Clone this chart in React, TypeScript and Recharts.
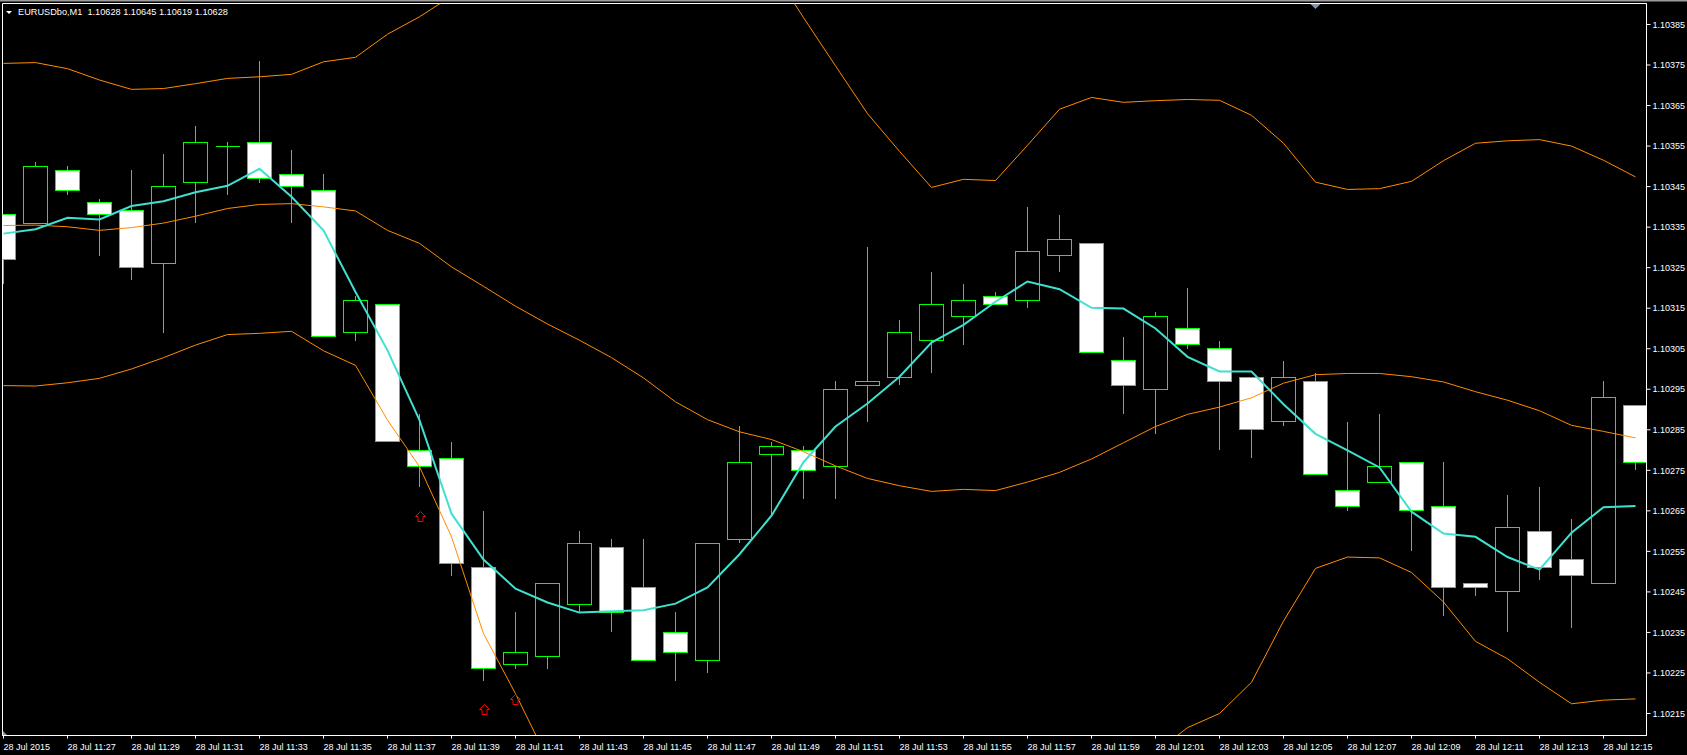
import React from 'react';
import { ComposedChart, Bar, Line, Scatter, XAxis, YAxis, ReferenceArea } from 'recharts';

// EURUSDbo M1, 28 Jul 2015 11:25 .. 12:16 (one entry per bar)
const opens = [
  1.10338, 1.10336, 1.10349, 1.10341, 1.10339, 1.10326, 1.10346, 1.10355, 1.10356, 1.10348,
  1.10344, 1.10309, 1.10316, 1.10280, 1.10278, 1.10251, 1.10227, 1.10229, 1.10242, 1.10256,
  1.10246, 1.10235, 1.10228, 1.10258, 1.10279, 1.10280, 1.10276, 1.10296, 1.10298, 1.10307,
  1.10313, 1.10318, 1.10317, 1.10328, 1.10331, 1.10302, 1.10295, 1.10310, 1.10305, 1.10298,
  1.10287, 1.10297, 1.10270, 1.10272, 1.10277, 1.10266, 1.10247, 1.10245, 1.10260, 1.10253,
  1.10247, 1.10291,
];
const highs = [
  1.10338, 1.10351, 1.10350, 1.10342, 1.10349, 1.10353, 1.10360, 1.10356, 1.10376, 1.10354,
  1.10348, 1.10318, 1.10316, 1.10289, 1.10282, 1.10265, 1.10240, 1.10247, 1.10260, 1.10258,
  1.10258, 1.10240, 1.10257, 1.10286, 1.10282, 1.10281, 1.10297, 1.10330, 1.10312, 1.10324,
  1.10321, 1.10319, 1.10340, 1.10338, 1.10331, 1.10308, 1.10314, 1.10320, 1.10307, 1.10298,
  1.10302, 1.10299, 1.10287, 1.10289, 1.10277, 1.10277, 1.10247, 1.10269, 1.10271, 1.10263,
  1.10297, 1.10291,
];
const lows = [
  1.10321, 1.10336, 1.10343, 1.10328, 1.10322, 1.10309, 1.10336, 1.10343, 1.10346, 1.10336,
  1.10308, 1.10307, 1.10282, 1.10271, 1.10249, 1.10223, 1.10226, 1.10226, 1.10240, 1.10235,
  1.10228, 1.10223, 1.10225, 1.10257, 1.10264, 1.10268, 1.10268, 1.10287, 1.10296, 1.10299,
  1.10306, 1.10316, 1.10315, 1.10324, 1.10304, 1.10289, 1.10284, 1.10305, 1.10280, 1.10278,
  1.10286, 1.10274, 1.10265, 1.10272, 1.10255, 1.10239, 1.10244, 1.10235, 1.10248, 1.10236,
  1.10247, 1.10275,
];
const closes = [
  1.10327, 1.10350, 1.10344, 1.10338, 1.10325, 1.10345, 1.10356, 1.10355, 1.10347, 1.10345,
  1.10308, 1.10317, 1.10282, 1.10276, 1.10252, 1.10226, 1.10230, 1.10247, 1.10257, 1.10240,
  1.10228, 1.10230, 1.10257, 1.10277, 1.10281, 1.10275, 1.10295, 1.10297, 1.10309, 1.10316,
  1.10317, 1.10316, 1.10329, 1.10332, 1.10304, 1.10296, 1.10313, 1.10306, 1.10297, 1.10285,
  1.10298, 1.10274, 1.10266, 1.10276, 1.10265, 1.10246, 1.10246, 1.10261, 1.10251, 1.10249,
  1.10293, 1.10277,
];

// moving average (turquoise)
const ma = [
  1.103334, 1.103345, 1.103373, 1.103369, 1.103402, 1.103414, 1.103436, 1.103452, 1.103494, 1.103425,
  1.103342, 1.103190, 1.103046, 1.102874, 1.102643, 1.102530, 1.102458, 1.102424, 1.102399, 1.102402,
  1.102405, 1.102421, 1.102461, 1.102543, 1.102638, 1.102770, 1.102858, 1.102915, 1.102981, 1.103065,
  1.103109, 1.103166, 1.103216, 1.103197, 1.103151, 1.103149, 1.103100, 1.103030, 1.102994, 1.102994,
  1.102913, 1.102840, 1.102799, 1.102757, 1.102648, 1.102594, 1.102586, 1.102536, 1.102505, 1.102596,
  1.102659, 1.102662,
];

// bollinger bands (orange), parts run off the visible price range
const upper = [
  1.103754, 1.103756, 1.103741, 1.103713, 1.103690, 1.103692, 1.103704, 1.103717, 1.103721, 1.103727,
  1.103758, 1.103769, 1.103826, 1.103869, 1.103920, 1.104061, 1.104111, 1.104184, 1.104190, 1.104180,
  1.104160, 1.104130, 1.104100, 1.104050, 1.103990, 1.103867, 1.103748, 1.103630, 1.103537, 1.103448,
  1.103468, 1.103465, 1.103552, 1.103641, 1.103670, 1.103658, 1.103662, 1.103665, 1.103663, 1.103626,
  1.103557, 1.103461, 1.103443, 1.103445, 1.103463, 1.103514, 1.103557, 1.103563, 1.103566, 1.103550,
  1.103515, 1.103474,
];
const mid = [
  1.103354, 1.103355, 1.103351, 1.103342, 1.103349, 1.103360, 1.103377, 1.103396, 1.103406, 1.103408,
  1.103400, 1.103390, 1.103342, 1.103310, 1.103252, 1.103204, 1.103155, 1.103111, 1.103071, 1.103028,
  1.102978, 1.102919, 1.102875, 1.102845, 1.102826, 1.102796, 1.102761, 1.102730, 1.102712, 1.102698,
  1.102703, 1.102700, 1.102721, 1.102745, 1.102778, 1.102818, 1.102858, 1.102888, 1.102906, 1.102929,
  1.102965, 1.102986, 1.102989, 1.102989, 1.102981, 1.102968, 1.102944, 1.102923, 1.102897, 1.102861,
  1.102846, 1.102830,
];
const lower = [
  1.102959, 1.102958, 1.102966, 1.102977, 1.103000, 1.103028, 1.103059, 1.103085, 1.103088, 1.103093,
  1.103045, 1.103009, 1.102874, 1.102759, 1.102586, 1.102347, 1.102199, 1.102038, 1.101952, 1.101876,
  1.101796, 1.101708, 1.101650, 1.101640, 1.101662, 1.101725, 1.101774, 1.101830, 1.101887, 1.101948,
  1.101938, 1.101935, 1.101890, 1.101849, 1.101886, 1.101978, 1.102054, 1.102115, 1.102150, 1.102227,
  1.102378, 1.102508, 1.102536, 1.102534, 1.102498, 1.102425, 1.102328, 1.102285, 1.102227, 1.102174,
  1.102183, 1.102186,
];

// signal arrows under bars
const arrowIdx = [13, 15, 16];
const arrowPrice = [1.102638, 1.102162, 1.102187];

const tickIdx = [0, 2, 4, 6, 8, 10, 12, 14, 16, 18, 20, 22, 24, 26, 28, 30, 32, 34, 36, 38, 40, 42, 44, 46, 48, 50];
const tickLabels = [
  '28 Jul 2015', '28 Jul 11:27', '28 Jul 11:29', '28 Jul 11:31', '28 Jul 11:33', '28 Jul 11:35',
  '28 Jul 11:37', '28 Jul 11:39', '28 Jul 11:41', '28 Jul 11:43', '28 Jul 11:45', '28 Jul 11:47',
  '28 Jul 11:49', '28 Jul 11:51', '28 Jul 11:53', '28 Jul 11:55', '28 Jul 11:57', '28 Jul 11:59',
  '28 Jul 12:01', '28 Jul 12:03', '28 Jul 12:05', '28 Jul 12:07', '28 Jul 12:09', '28 Jul 12:11',
  '28 Jul 12:13', '28 Jul 12:15',
];
const priceTicks = [
  1.10215, 1.10225, 1.10235, 1.10245, 1.10255, 1.10265, 1.10275, 1.10285, 1.10295,
  1.10305, 1.10315, 1.10325, 1.10335, 1.10345, 1.10355, 1.10365, 1.10375, 1.10385,
];

const data = opens.map((o, i) => ({
  i,
  open: o,
  high: highs[i],
  low: lows[i],
  close: closes[i],
  ma: ma[i],
  upper: upper[i],
  mid: mid[i],
  lower: lower[i],
}));
const arrowData = arrowIdx.map((i, k) => ({ i, price: arrowPrice[k] }));

const X_DOMAIN = [-0.03125, 51.34375];
const Y_DOMAIN = [1.10209571, 1.10390181];

const GREEN = '#00ff00';
const ORANGE = '#ff8c00';
const CYAN = '#40e0d0';
const RED = '#ff0000';
const FONT = '"Liberation Sans", Arial, sans-serif';

const Candle = (props: any) => {
  const { x, y, width, height, payload } = props;
  if (x == null || y == null || !payload) return null;
  const { open, close, high, low } = payload;
  const yHigh = Math.min(y, y + height);
  const yLow = Math.max(y, y + height);
  const k = high > low ? (yLow - yHigh) / (high - low) : 0;
  const py = (v: number) => yHigh + (high - v) * k;
  const cx = x + width / 2;
  const top = py(Math.max(open, close));
  const bot = py(Math.min(open, close));
  return (
    <g shapeRendering="crispEdges">
      <line x1={cx} x2={cx} y1={yHigh} y2={yLow} stroke={GREEN} />
      {open === close ? (
        <line x1={x} x2={x + width} y1={top} y2={top} stroke={GREEN} />
      ) : (
        <rect x={x} y={top} width={width} height={bot - top} fill={close < open ? '#fff' : '#000'} stroke={GREEN} />
      )}
    </g>
  );
};

const UpArrow = (props: any) => {
  const { cx, cy } = props;
  if (cx == null || cy == null) return null;
  const x = Math.round(cx) + 0.5;
  const t = Math.round(cy) - 5 + 0.5;
  const d = `M${x} ${t} L${x + 5} ${t + 5} L${x + 2.5} ${t + 5} L${x + 2.5} ${t + 10} L${x - 2.5} ${t + 10} L${x - 2.5} ${t + 5} L${x - 5} ${t + 5} Z`;
  return <path d={d} fill="none" stroke={RED} />;
};

const TimeTick = (props: any) => {
  const { x, y, payload } = props;
  return (
    <text x={x} y={y} dy={11} fill="#fff" fontSize={9} fontFamily={FONT} textAnchor="start">
      {tickLabels[tickIdx.indexOf(payload.value)]}
    </text>
  );
};

export default function App() {
  return (
    <div style={{ width: 1687, height: 755, background: '#000' }}>
      <style>{'body { margin: 0; background: #000; }'}</style>
      <ComposedChart
        width={1687}
        height={755}
        data={data}
        margin={{ top: 3.5, right: 0, bottom: 0, left: 2.5 }}
        style={{ background: '#000' }}
      >
        <XAxis
          dataKey="i"
          type="number"
          domain={X_DOMAIN}
          allowDataOverflow
          ticks={tickIdx}
          interval={0}
          tick={(p: any) => <TimeTick {...p} />}
          tickSize={3}
          tickMargin={0}
          tickLine={{ stroke: '#fff' }}
          axisLine={{ stroke: '#fff' }}
          height={19.5}
        />
        <YAxis
          orientation="right"
          type="number"
          domain={Y_DOMAIN}
          allowDataOverflow
          ticks={priceTicks}
          interval={0}
          tickFormatter={(v: number) => v.toFixed(5)}
          tick={{ fill: '#fff', fontSize: 9, fontFamily: FONT }}
          tickSize={4}
          tickMargin={2}
          tickLine={{ stroke: '#fff' }}
          axisLine={{ stroke: '#fff' }}
          width={40.5}
        />
        <Bar dataKey={(d: any) => [d.low, d.high]} barSize={24} shape={Candle} isAnimationActive={false} />
        <Line dataKey="upper" type="linear" stroke={ORANGE} strokeWidth={1} dot={false} activeDot={false} isAnimationActive={false} />
        <Line dataKey="mid" type="linear" stroke={ORANGE} strokeWidth={1} dot={false} activeDot={false} isAnimationActive={false} />
        <Line dataKey="lower" type="linear" stroke={ORANGE} strokeWidth={1} dot={false} activeDot={false} isAnimationActive={false} />
        <Line dataKey="ma" type="linear" stroke={CYAN} strokeWidth={2} dot={false} activeDot={false} isAnimationActive={false} />
        <Scatter data={arrowData} dataKey="price" shape={UpArrow} isAnimationActive={false} />
        <ReferenceArea
          x1={X_DOMAIN[0]}
          x2={X_DOMAIN[1]}
          y1={Y_DOMAIN[0]}
          y2={Y_DOMAIN[1]}
          fill="none"
          stroke="#fff"
          ifOverflow="visible"
        />
        <rect x={0} y={0} width={1687} height={1.5} fill="#9c9c9c" />
        <polygon points="6,11 12,11 9,14" fill="#fff" />
        <text x={18} y={15} fill="#fff" fontSize={9.2} fontFamily={FONT} xmlSpace="preserve">
          {'EURUSDbo,M1\u00a0\u00a01.10628 1.10645 1.10619 1.10628'}
        </text>
        <polygon points="1310.5,4 1320.5,4 1315.5,9" fill="#8796a8" />
        <polygon points="3,731 3,735.5 7.5,735.5" fill="#8796a8" />
      </ComposedChart>
    </div>
  );
}
